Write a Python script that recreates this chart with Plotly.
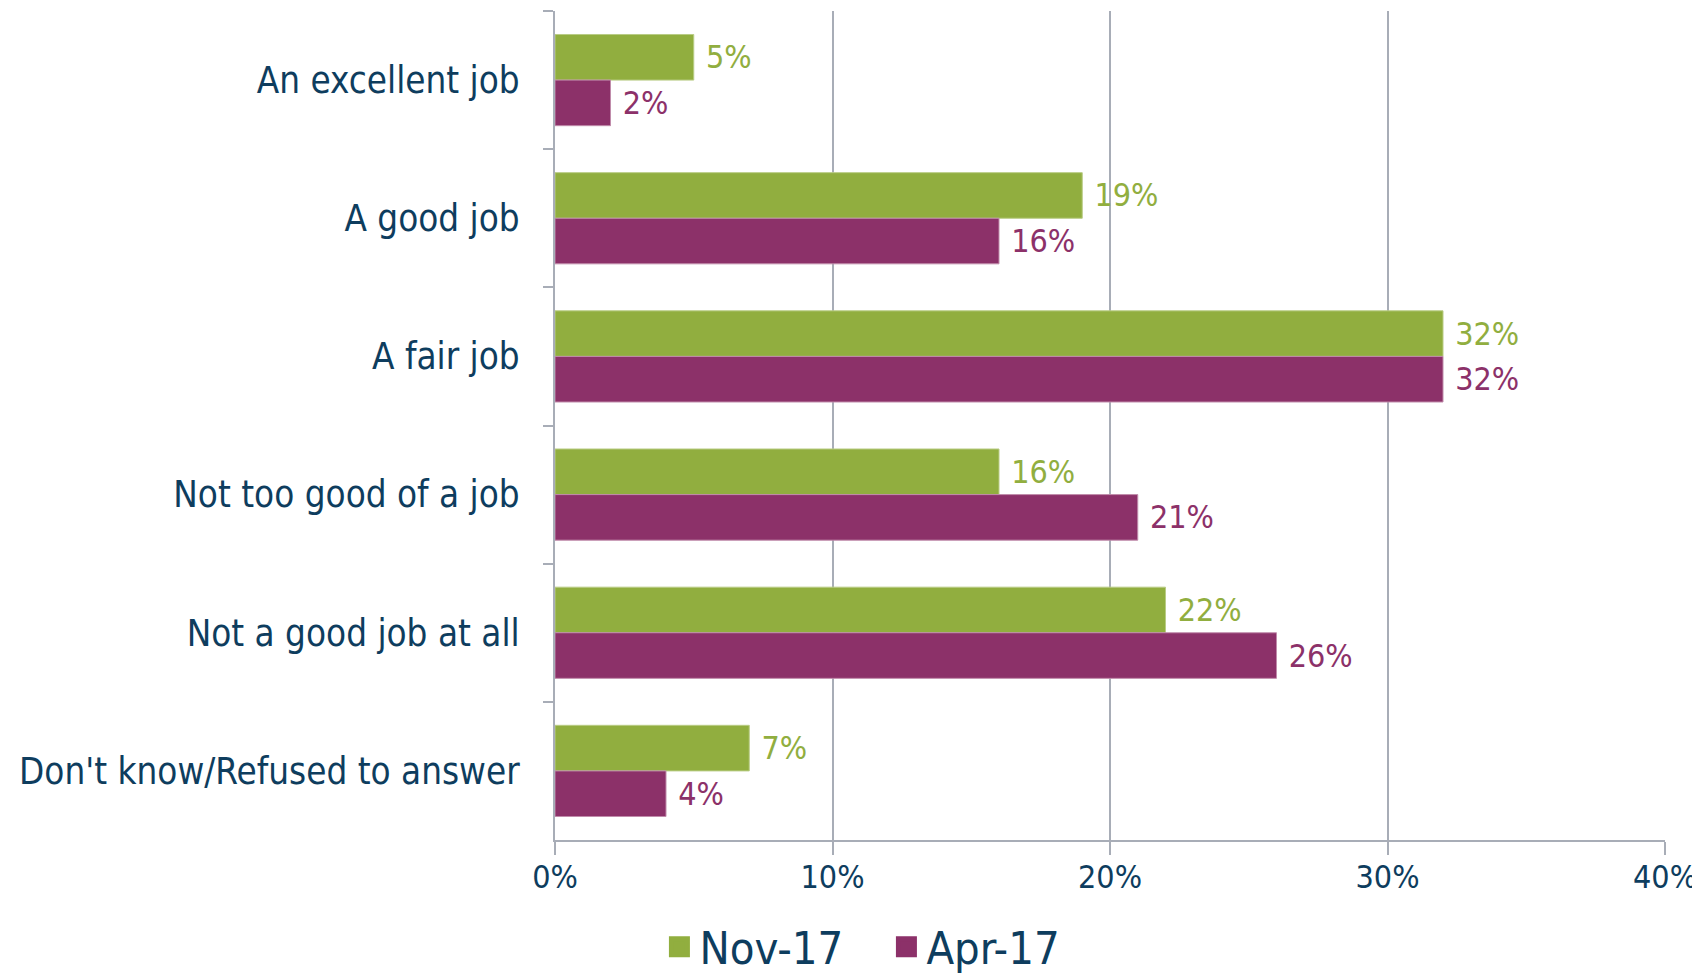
import plotly.graph_objects as go

categories = ["An excellent job", "A good job", "A fair job", "Not too good of a job",
              "Not a good job at all", "Don't know/Refused to answer"]
nov17 = [5, 19, 32, 16, 22, 7]
apr17 = [2, 16, 32, 21, 26, 4]
series_names = ["Nov-17", "Apr-17"]
x_ticks = [0, 10, 20, 30, 40]
x_tick_labels = ["0%", "10%", "20%", "30%", "40%"]

GREEN = "#91AE3F"
PURPLE = "#8C3169"
NAVY = "#0E3D5E"
GRID = "#A8ADB7"
FONT = "DejaVu Sans Condensed, Liberation Sans Narrow, DejaVu Sans, sans-serif"

fig = go.Figure()
for vals, name, col, edge in [(nov17, series_names[0], GREEN, "#B9CC85"),
                              (apr17, series_names[1], PURPLE, "#C08CAB")]:
    fig.add_trace(go.Bar(
        y=categories, x=vals, name=name, orientation="h", showlegend=False,
        marker=dict(color=col, line=dict(color=edge, width=1)),
        texttemplate="\u00a0%{x}%", textposition="outside",
        textfont=dict(color=col, size=32, family=FONT), cliponaxis=False,
    ))
# legend entries with large square swatches
for name, col in [(series_names[0], GREEN), (series_names[1], PURPLE)]:
    fig.add_trace(go.Scatter(
        x=[None], y=[None], mode="markers", name=name,
        marker=dict(symbol="square", size=16, color=col, line=dict(color=col, width=5)),
    ))

# page body has an 8px margin, so the figure is sized/offset to compensate
fig.update_layout(
    width=1692, height=969,
    barmode="group", bargap=0.34, bargroupgap=0,
    plot_bgcolor="white", paper_bgcolor="white",
    margin=dict(l=547, r=35, t=3, b=137, autoexpand=False),
    font=dict(family=FONT, color=NAVY, size=33),
    legend=dict(orientation="h", xref="container", yref="container",
                x=0.385, xanchor="left", y=0.031, yanchor="middle",
                font=dict(size=45, color=NAVY, family=FONT),
                itemwidth=30, traceorder="normal", tracegroupgap=0,
                entrywidth=182, entrywidthmode="pixels"),
    xaxis=dict(range=[0, 40], tickvals=x_ticks, ticktext=x_tick_labels,
               showgrid=True, gridcolor=GRID, gridwidth=1.5,
               showline=True, linecolor=GRID, linewidth=2,
               ticks="outside", ticklen=13, tickcolor=GRID, tickwidth=1.5,
               ticklabelstandoff=-5,
               zeroline=False, automargin=False, tickfont=dict(size=32, color=NAVY)),
    yaxis=dict(autorange="reversed", showline=True, linecolor=GRID, linewidth=2,
               ticks="outside", ticklen=10, tickcolor=GRID, tickwidth=1.5,
               tickson="boundaries", showgrid=False, ticklabelstandoff=26,
               automargin=False, tickfont=dict(size=36.5, color=NAVY)),
)

fig.write_html("out.html")
